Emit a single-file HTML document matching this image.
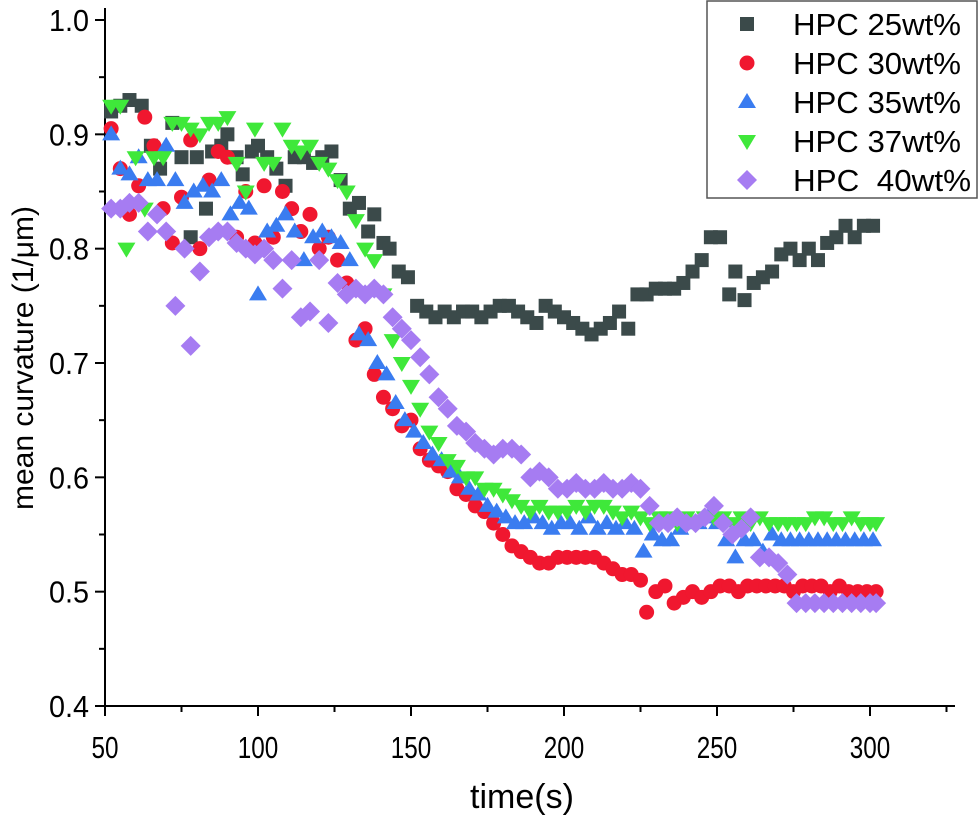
<!DOCTYPE html>
<html><head><meta charset="utf-8"><style>
body{margin:0;background:#fff;}
svg{display:block;font-family:"Liberation Sans",sans-serif;}
</style></head><body>
<svg id="chart" width="980" height="815" viewBox="0 0 980 815" xmlns="http://www.w3.org/2000/svg"></svg>
<script>
const xTicks=[50,100,150,200,250,300];
const yTicks=[0.4,0.5,0.6,0.7,0.8,0.9,1.0];
const seriesNames=["HPC 25wt%","HPC 30wt%","HPC 35wt%","HPC 37wt%","HPC  40wt%"];
const t25=[52,55,58,62,65,68,72,75,78,80,83,85,88,90,93,95,98,100,103,106,109,112,115,118,121,124,127,130,133,136,138,141,143,146,149,152,155,158,161,164,167,170,173,176,179,182,185,188,191,194,197,200,203,206,209,212,215,218,221,224,227,230,233,236,239,242,245,248,251,254,256,259,262,265,268,271,274,277,280,283,286,289,292,295,298,301];
const v25=[0.92,0.925,0.93,0.925,0.89,0.87,0.91,0.88,0.81,0.88,0.835,0.885,0.89,0.9,0.88,0.865,0.885,0.89,0.88,0.87,0.855,0.88,0.88,0.875,0.88,0.885,0.86,0.835,0.84,0.815,0.83,0.805,0.8,0.78,0.775,0.75,0.745,0.74,0.745,0.74,0.745,0.745,0.74,0.745,0.75,0.75,0.745,0.74,0.735,0.75,0.745,0.74,0.735,0.73,0.725,0.73,0.735,0.745,0.73,0.76,0.76,0.765,0.765,0.765,0.77,0.78,0.79,0.81,0.81,0.76,0.78,0.755,0.77,0.775,0.78,0.795,0.8,0.79,0.8,0.79,0.805,0.81,0.82,0.81,0.82,0.82];
const t30=[52,55,58,61,63,66,69,72,75,78,81,84,87,90,93,96,99,102,105,108,111,114,117,120,123,126,129,132,135,138,141,144,147,150,153,156,159,162,165,168,171,174,177,180,183,186,189,192,195,198,201,204,207,210,213,216,219,222,225,227,230,233,236,239,242,245,248,251,254,257,260,263,266,269,272,275,278,281,284,287,290,293,296,299,302];
const v30=[0.905,0.87,0.83,0.855,0.915,0.89,0.835,0.805,0.845,0.895,0.8,0.86,0.885,0.88,0.81,0.85,0.805,0.855,0.81,0.85,0.835,0.815,0.83,0.8,0.81,0.79,0.77,0.72,0.73,0.69,0.67,0.66,0.645,0.65,0.625,0.615,0.61,0.605,0.59,0.585,0.575,0.57,0.56,0.55,0.54,0.535,0.53,0.525,0.525,0.53,0.53,0.53,0.53,0.53,0.525,0.52,0.515,0.515,0.51,0.482,0.5,0.505,0.49,0.495,0.5,0.495,0.5,0.505,0.505,0.5,0.505,0.505,0.505,0.505,0.505,0.5,0.505,0.505,0.505,0.5,0.505,0.5,0.5,0.5,0.5];
const t35=[52,55,58,61,64,67,70,73,76,79,82,85,88,91,94,97,100,103,106,109,112,115,118,121,124,127,130,133,136,139,142,145,148,151,154,157,160,163,166,169,172,175,178,181,184,187,190,193,196,199,202,205,208,211,214,217,220,223,226,229,232,235,238,241,244,247,250,253,256,259,262,265,268,271,274,277,280,283,286,289,292,295,298,301];
const v35=[0.9,0.87,0.865,0.88,0.86,0.86,0.89,0.86,0.84,0.85,0.855,0.85,0.86,0.83,0.84,0.835,0.76,0.815,0.82,0.83,0.815,0.79,0.81,0.815,0.81,0.805,0.79,0.725,0.72,0.7,0.69,0.665,0.65,0.64,0.63,0.62,0.615,0.605,0.6,0.59,0.585,0.575,0.57,0.565,0.56,0.56,0.565,0.56,0.555,0.56,0.56,0.555,0.565,0.555,0.56,0.555,0.56,0.555,0.535,0.55,0.545,0.545,0.555,0.56,0.56,0.565,0.56,0.545,0.53,0.545,0.545,0.535,0.55,0.545,0.545,0.545,0.545,0.545,0.545,0.545,0.545,0.545,0.545,0.545];
const t37=[52,55,57,60,63,66,69,72,75,78,81,84,87,90,93,96,99,102,105,108,111,114,117,120,123,126,129,132,135,138,141,144,147,150,153,156,159,162,165,168,171,174,177,180,183,186,189,192,195,198,201,204,207,210,213,216,219,222,225,228,231,234,237,240,243,246,249,252,255,258,261,264,267,270,273,276,279,282,285,288,291,294,297,300,302];
const v37=[0.925,0.925,0.8,0.88,0.835,0.88,0.88,0.91,0.91,0.905,0.9,0.91,0.91,0.915,0.875,0.85,0.905,0.875,0.875,0.905,0.89,0.885,0.89,0.875,0.87,0.86,0.85,0.825,0.8,0.79,0.76,0.72,0.7,0.68,0.66,0.64,0.63,0.615,0.61,0.6,0.6,0.59,0.59,0.585,0.58,0.575,0.57,0.575,0.57,0.57,0.57,0.575,0.57,0.575,0.575,0.57,0.565,0.57,0.565,0.56,0.565,0.565,0.56,0.565,0.56,0.565,0.565,0.565,0.56,0.565,0.56,0.565,0.56,0.56,0.56,0.56,0.56,0.565,0.565,0.56,0.56,0.565,0.56,0.56,0.56];
const t40=[52,55,58,61,64,67,70,73,76,78,81,84,87,90,93,96,99,102,105,108,111,114,117,120,123,126,129,132,135,138,141,144,147,150,153,156,159,162,165,168,171,174,177,180,183,186,189,192,195,198,201,204,207,210,213,216,219,222,225,228,231,234,237,240,243,246,249,252,255,258,261,264,267,270,273,276,279,282,285,288,291,294,297,300,302];
const v40=[0.835,0.835,0.84,0.84,0.815,0.83,0.815,0.75,0.8,0.715,0.78,0.81,0.815,0.815,0.805,0.8,0.795,0.8,0.79,0.765,0.79,0.74,0.745,0.79,0.735,0.77,0.76,0.765,0.76,0.765,0.76,0.74,0.73,0.72,0.705,0.69,0.67,0.66,0.645,0.64,0.63,0.625,0.62,0.625,0.625,0.62,0.6,0.605,0.6,0.59,0.59,0.595,0.59,0.59,0.595,0.59,0.59,0.595,0.59,0.575,0.56,0.56,0.565,0.56,0.56,0.565,0.575,0.56,0.55,0.555,0.565,0.53,0.53,0.525,0.515,0.49,0.49,0.49,0.49,0.49,0.49,0.49,0.49,0.49,0.49];

const NS="http://www.w3.org/2000/svg";
const svg=document.getElementById('chart');
const X0=105,X1=870,Y0=706,Y1=20;
const xs=v=>X0+(v-50)/250*(X1-X0);
const ys=v=>Y0-(v-0.4)/0.6*(Y0-Y1);
function mk(tag,attrs,parent){const e=document.createElementNS(NS,tag);for(const k in attrs)e.setAttribute(k,attrs[k]);(parent||svg).appendChild(e);return e;}

const axes=mk('g',{});


const xl=mk('line',{x1:X0,y1:Y0,x2:955,y2:Y0,stroke:'#000','stroke-width':2},axes);


const yl=mk('line',{x1:X0,y1:Y0,x2:X0,y2:8,stroke:'#000','stroke-width':2},axes);


for(let v=50;v<=325;v+=25){const x=xs(v);const major=(v%50===0);
  mk('line',{x1:x,y1:Y0,x2:x,y2:Y0+(major?10:6),stroke:'#000','stroke-width':2},axes);}
xTicks.forEach(v=>{const s=String(v);const t=mk('text',{x:xs(v),y:Y0+52,'text-anchor':'middle',style:'font-size:31px',textLength:s.length*13.5,lengthAdjust:'spacingAndGlyphs'},axes);t.textContent=s;
  
  });
for(let i=0;i<=12;i++){const v=0.4+i*0.05;const y=ys(v);
  mk('line',{x1:X0,y1:y,x2:X0-(i%2===0?10:6),y2:y,stroke:'#000','stroke-width':2},axes);}
yTicks.forEach(v=>{const t=mk('text',{x:X0-16,y:ys(v)+11,'text-anchor':'end',style:'font-size:31px',textLength:40,lengthAdjust:'spacingAndGlyphs'},axes);t.textContent=v.toFixed(1);
  
  });
const xt=mk('text',{x:522,y:808,'text-anchor':'middle',style:'font-size:34px'},axes);xt.textContent='time(s)';


const yt=mk('text',{x:0,y:0,'text-anchor':'middle',style:'font-size:30px',transform:'translate(33,358) rotate(-90)'},axes);yt.textContent='mean curvature (1/μm)';



function marker(kind,x,y,color,parent){
  if(kind==='sq')return mk('rect',{x:x-7,y:y-7,width:14,height:14,fill:color},parent);
  if(kind==='ci')return mk('circle',{cx:x,cy:y,r:7.5,fill:color},parent);
  if(kind==='up')return mk('polygon',{points:`${x},${y-9} ${x+9},${y+6} ${x-9},${y+6}`,fill:color},parent);
  if(kind==='dn')return mk('polygon',{points:`${x-9},${y-6} ${x+9},${y-6} ${x},${y+9}`,fill:color},parent);
  return mk('polygon',{points:`${x},${y-10} ${x+10},${y} ${x},${y+10} ${x-10},${y}`,fill:color},parent);
}
const series=[[t25,v25,'sq','#3b4a4a','series-25wt'],[t30,v30,'ci','#f0172f','series-30wt'],[t35,v35,'up','#3a7cf0','series-35wt'],[t37,v37,'dn','#3fe83a','series-37wt'],[t40,v40,'di','#a67cf2','series-40wt']];
series.forEach(s=>{const g=mk('g',{});
  
  
  s[0].forEach((t,i)=>{const m=marker(s[2],xs(t),ys(s[1][i]),s[3],g);
    
    });});

const lg=mk('g',{});


mk('rect',{x:707,y:1,width:270,height:197,fill:'#fff',stroke:'#555','stroke-width':1.5},lg);
series.forEach((s,i)=>{const y=24+i*39;
  const e=mk('g',{},lg);
  
  
  marker(s[2],747,y,s[3],e);
  const t=mk('text',{x:793,y:y+11,style:'font-size:31px;white-space:pre',textLength:(i===4?178:168),lengthAdjust:'spacingAndGlyphs'},e);t.textContent=seriesNames[i];});
</script>
</body></html>
